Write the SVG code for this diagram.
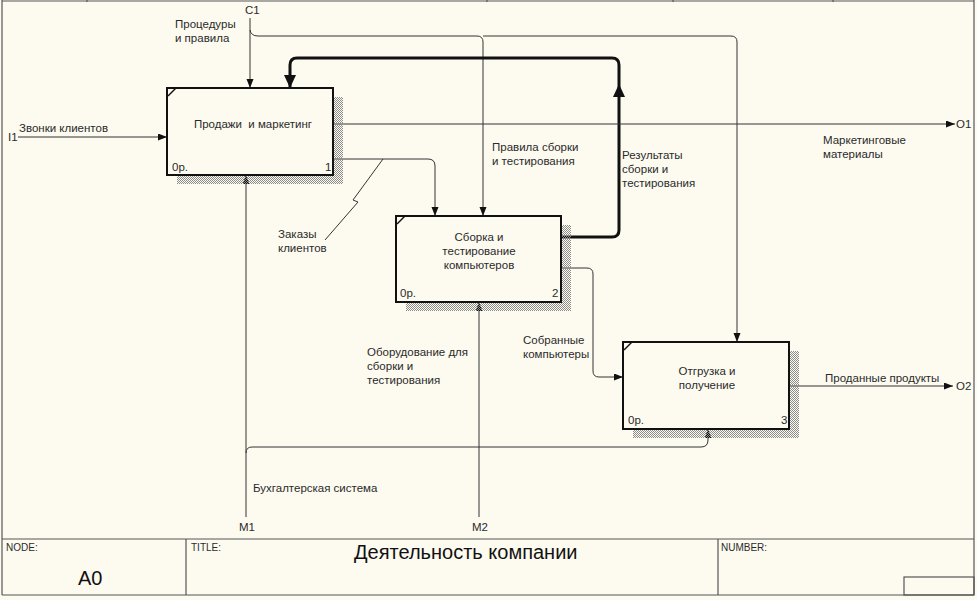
<svg xmlns="http://www.w3.org/2000/svg" width="977" height="600" viewBox="0 0 977 600">
<defs>
<pattern id="hatch" width="2" height="2" patternUnits="userSpaceOnUse">
<rect x="0" y="0" width="1" height="1" fill="#8c8c8c"/>
<rect x="1" y="1" width="1" height="1" fill="#8c8c8c"/>
</pattern>
<marker id="arr" markerUnits="userSpaceOnUse" markerWidth="10" markerHeight="8" refX="9" refY="3.5" orient="auto">
<path d="M0,0 L9,3.5 L0,7 z" fill="#111"/>
</marker>
<marker id="arrBig" markerUnits="userSpaceOnUse" markerWidth="14" markerHeight="13" refX="13" refY="6" orient="auto">
<path d="M0,0 L13,6 L0,12 z" fill="#111"/>
</marker>
</defs>
<style>
text{font-family:"Liberation Sans",Arial,sans-serif;font-size:11.5px;fill:#2a2a2a}
.c{text-anchor:middle}
.small{font-size:10px}
.big{font-size:20px;fill:#111}
.box{fill:#fdfbf0;stroke:#111;stroke-width:2}
.shadow{fill:url(#hatch)}
.ln{fill:none;stroke:#333;stroke-width:1}
.thick{fill:none;stroke:#111;stroke-width:3}
.frame{fill:none;stroke:#555;stroke-width:1.2}
.corner{stroke:#111;stroke-width:1.5}
</style>
<rect x="0" y="0" width="977" height="600" fill="#fdfbf0"/>
<g id="frame">
<line class="frame" x1="2" y1="1" x2="974" y2="1"/>
<line class="frame" x1="2" y1="0" x2="2" y2="595"/>
<line class="frame" x1="974" y1="0" x2="974" y2="595"/>
<line class="frame" x1="87" y1="0" x2="87" y2="2"/>
<line class="frame" x1="487" y1="0" x2="487" y2="2"/>
<line class="frame" x1="673" y1="0" x2="673" y2="2"/>
<line class="frame" x1="833" y1="0" x2="833" y2="2"/>
<line class="frame" x1="2" y1="539" x2="974" y2="539"/>
<line class="frame" x1="2" y1="595" x2="974" y2="595"/>
<line class="frame" x1="186" y1="539" x2="186" y2="595"/>
<line class="frame" x1="718" y1="539" x2="718" y2="595"/>
<rect class="frame" x="904" y="577" width="70" height="18"/>
<text class="small" x="6" y="551">NODE:</text>
<text class="small" x="191" y="551">TITLE:</text>
<text class="small" x="721" y="551">NUMBER:</text>
<text class="big" x="78" y="585">A0</text>
<text class="big" x="354" y="559">Деятельность компании</text>
</g>
<g id="connectors">
<path class="ln" d="M250,18 V88" marker-end="url(#arr)"/>
<path class="ln" d="M250,30 Q251,36 258,36 H477 Q483,36 483,42 V216" marker-end="url(#arr)"/>
<path class="ln" d="M483,36 H731 Q737,36 737,42 V342" marker-end="url(#arr)"/>
<path class="thick" d="M561,237 H612 Q619,237 619,230 V65 Q619,58 612,58 H297 Q290,58 290,65 V88" marker-end="url(#arrBig)"/>
<polygon points="619,84 613,97 625,97" fill="#111"/>
<path class="ln" d="M18,137 H167" marker-end="url(#arr)"/>
<path class="ln" d="M333,124 H955" marker-end="url(#arr)"/>
<path class="ln" d="M333,159 H428 Q435,159 435,166 V216" marker-end="url(#arr)"/>
<polyline class="ln" points="383,159 353,200 358,202 325,240"/>
<path class="ln" d="M561,268 H587 Q593,268 593,274 V371 Q593,377 599,377 H623" marker-end="url(#arr)"/>
<path class="ln" d="M789,386 H953" marker-end="url(#arr)"/>
<path class="ln" d="M246,517 V175" marker-end="url(#arr)"/>
<path class="ln" d="M246,453 Q246,447 252,447 H701 Q708,447 708,440 V429" marker-end="url(#arr)"/>
<path class="ln" d="M479,517 V302" marker-end="url(#arr)"/>
<text x="245" y="14">C1</text>
<text x="175" y="28">Процедуры</text>
<text x="175" y="42">и правила</text>
<text x="8" y="141">I1</text>
<text x="19" y="132">Звонки клиентов</text>
<text x="823" y="144">Маркетинговые</text>
<text x="823" y="158">материалы</text>
<text x="956" y="128">O1</text>
<text x="492" y="151">Правила сборки</text>
<text x="492" y="165">и тестирования</text>
<text x="622" y="159">Результаты</text>
<text x="622" y="173">сборки и</text>
<text x="622" y="187">тестирования</text>
<text x="278" y="238">Заказы</text>
<text x="278" y="252">клиентов</text>
<text x="523" y="344">Собранные</text>
<text x="523" y="358">компьютеры</text>
<text x="825" y="382">Проданные продукты</text>
<text x="956" y="390">O2</text>
<text x="367" y="356">Оборудование для</text>
<text x="367" y="370">сборки и</text>
<text x="367" y="384">тестирования</text>
<text x="253" y="492">Бухгалтерская система</text>
<text x="239" y="531">M1</text>
<text x="472" y="531">M2</text>
</g>
<g id="node1">
<rect class="shadow" x="177" y="97" width="166" height="87"/>
<rect class="box" x="167" y="88" width="166" height="87"/>
<line class="corner" x1="168" y1="96" x2="176" y2="88"/>
<text class="c" x="253" y="128">Продажи&#160; и маркетинг</text>
<text x="172" y="171">0р.</text>
<text x="325" y="171">1</text>
</g>
<g id="node2">
<rect class="shadow" x="406" y="225" width="165" height="86"/>
<rect class="box" x="396" y="216" width="165" height="86"/>
<line class="corner" x1="397" y1="224" x2="405" y2="216"/>
<text class="c" x="479" y="241">Сборка и</text>
<text class="c" x="479" y="255">тестирование</text>
<text class="c" x="479" y="269">компьютеров</text>
<text x="400" y="297">0р.</text>
<text x="552" y="297">2</text>
</g>
<g id="node3">
<rect class="shadow" x="633" y="351" width="166" height="87"/>
<rect class="box" x="623" y="342" width="166" height="87"/>
<line class="corner" x1="624" y1="350" x2="632" y2="342"/>
<text class="c" x="707" y="375">Отгрузка и</text>
<text class="c" x="707" y="389">получение</text>
<text x="628" y="424">0р.</text>
<text x="781" y="424">3</text>
</g>
</svg>
